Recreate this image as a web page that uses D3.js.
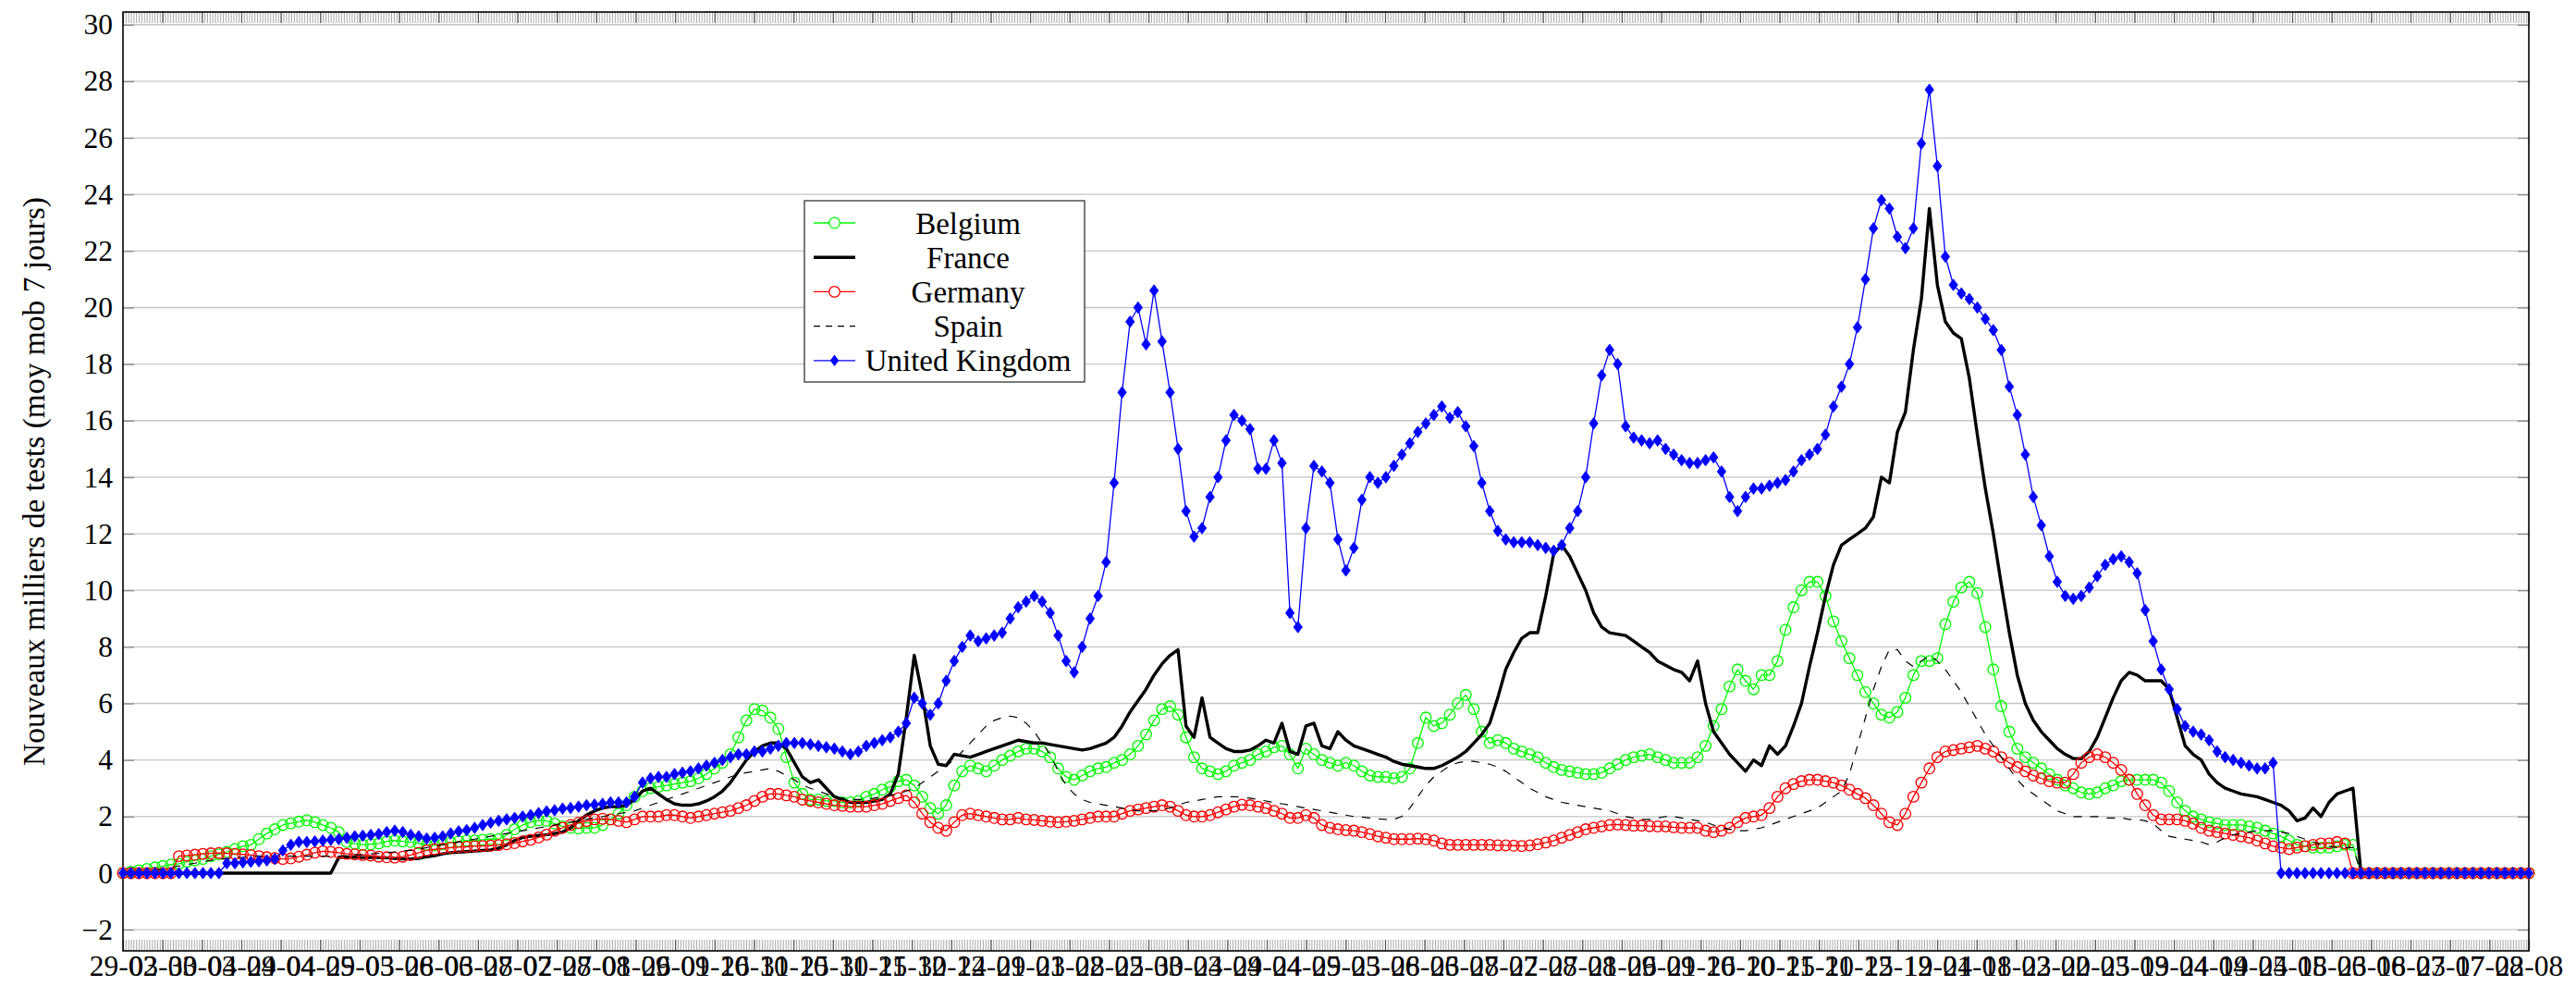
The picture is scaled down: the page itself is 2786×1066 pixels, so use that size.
<!DOCTYPE html>
<html>
<head>
<meta charset="utf-8">
<script src="https://cdn.jsdelivr.net/npm/d3@7"></script>
<style>
  body { margin: 0; background: #fff; }
  text { font-family: "Liberation Serif", "Times New Roman", serif; fill: #000; }
</style>
</head>
<body>
<svg id="chart" width="2786" height="1066"></svg>
<script>
// one value every 3 days starting 29-02-2020
const startDate = new Date(2020, 1, 29);
const stepDays = 3;

const belgium = [
  0,0.05,0.1,0.15,0.2,0.25,0.3,0.33,0.4,0.45,
  0.5,0.6,0.66,0.75,0.85,0.95,1.0,1.2,1.4,1.55,
  1.7,1.76,1.82,1.87,1.8,1.7,1.6,1.45,1.1,1.04,
  1.0,1.02,1.05,1.12,1.15,1.12,1.1,1.05,1.0,0.98,
  1.02,1.08,1.12,1.15,1.15,1.18,1.2,1.2,1.35,1.55,
  1.7,1.8,1.87,1.85,1.75,1.65,1.6,1.58,1.6,1.6,
  1.7,1.9,2.1,2.4,2.7,2.9,3.0,3.05,3.1,3.15,
  3.2,3.25,3.35,3.5,3.7,3.9,4.2,4.8,5.4,5.8,
  5.75,5.5,5.1,4.1,3.2,2.8,2.6,2.6,2.55,2.55,
  2.5,2.5,2.55,2.7,2.8,2.95,3.05,3.25,3.3,3.1,
  2.7,2.3,2.1,2.4,3.1,3.6,3.8,3.7,3.6,3.8,
  4.0,4.15,4.3,4.4,4.4,4.3,4.1,3.7,3.4,3.3,
  3.45,3.6,3.7,3.75,3.9,4.0,4.2,4.5,4.9,5.4,
  5.8,5.9,5.6,4.8,4.1,3.7,3.6,3.5,3.6,3.8,
  3.9,4.0,4.2,4.3,4.45,4.5,4.2,3.7,4.4,4.2,
  4.0,3.9,3.8,3.9,3.8,3.6,3.45,3.4,3.4,3.35,
  3.4,3.7,4.6,5.5,5.2,5.3,5.6,6.0,6.3,5.8,
  5.0,4.6,4.7,4.6,4.4,4.3,4.2,4.1,3.9,3.75,
  3.65,3.6,3.55,3.5,3.5,3.55,3.7,3.85,4.0,4.1,
  4.15,4.2,4.1,4.0,3.9,3.9,3.9,4.1,4.5,5.2,
  5.8,6.6,7.2,6.8,6.5,7.0,7.0,7.5,8.6,9.4,
  10.0,10.3,10.3,9.8,8.9,8.2,7.6,7.0,6.4,6.0,
  5.6,5.5,5.7,6.2,7.0,7.5,7.5,7.6,8.8,9.6,
  10.1,10.3,9.9,8.7,7.2,5.9,5.0,4.4,4.1,3.9,
  3.7,3.5,3.3,3.1,3.0,2.85,2.8,2.85,3.0,3.1,
  3.25,3.3,3.3,3.3,3.3,3.2,2.9,2.5,2.2,2.0,
  1.9,1.8,1.75,1.7,1.7,1.7,1.65,1.6,1.5,1.4,
  1.3,1.15,1.0,0.95,0.9,0.9,0.9,0.95,1.0,1.0,
  0,0,0,0,0,0,0,0,0,0,
  0,0,0,0,0,0,0,0,0,0,
  0,0
];

const france = [
  0,0,0,0,0,0,0,0,0,0,
  0,0,0,0,0,0,0,0,0,0,
  0,0,0,0,0,0,0,0.55,0.57,0.56,
  0.55,0.55,0.55,0.54,0.52,0.5,0.5,0.52,0.58,0.62,
  0.68,0.72,0.74,0.76,0.78,0.8,0.82,0.88,1.0,1.15,
  1.26,1.3,1.33,1.36,1.4,1.45,1.6,1.85,2.05,2.2,
  2.3,2.35,2.35,2.4,2.6,2.9,3.0,2.8,2.6,2.45,
  2.4,2.4,2.45,2.55,2.7,2.9,3.2,3.6,4.0,4.3,
  4.5,4.6,4.6,4.4,3.9,3.4,3.2,3.3,3.0,2.7,
  2.6,2.5,2.5,2.5,2.55,2.6,2.8,3.5,5.5,7.7,
  6.3,4.5,3.85,3.8,4.2,4.15,4.1,4.2,4.3,4.4,
  4.5,4.6,4.7,4.65,4.6,4.6,4.55,4.5,4.45,4.4,
  4.35,4.4,4.5,4.6,4.8,5.2,5.7,6.1,6.5,7.0,
  7.4,7.7,7.9,5.2,4.8,6.2,4.8,4.6,4.4,4.3,
  4.3,4.35,4.5,4.7,4.6,5.3,4.3,4.2,5.2,5.3,
  4.5,4.4,5.0,4.7,4.5,4.4,4.3,4.2,4.1,3.95,
  3.85,3.8,3.75,3.7,3.7,3.8,3.95,4.1,4.3,4.6,
  4.9,5.3,6.2,7.2,7.8,8.3,8.5,8.5,9.8,11.3,
  11.6,11.2,10.6,10.0,9.2,8.7,8.5,8.45,8.4,8.2,
  8.0,7.8,7.5,7.35,7.2,7.1,6.8,7.5,6.0,5.0,
  4.6,4.2,3.9,3.6,4.0,3.8,4.5,4.2,4.5,5.2,
  6.0,7.3,8.5,9.8,10.9,11.6,11.8,12.0,12.2,12.6,
  14.0,13.8,15.6,16.3,18.5,20.3,23.5,20.8,19.5,19.1,
  18.9,17.5,15.5,13.6,12.0,10.2,8.5,7.0,6.0,5.4,
  5.0,4.7,4.4,4.2,4.05,4.05,4.3,4.8,5.5,6.2,
  6.8,7.1,7.0,6.8,6.8,6.8,6.5,5.5,4.5,4.2,
  4.0,3.5,3.2,3.0,2.9,2.8,2.75,2.7,2.6,2.5,
  2.4,2.2,1.85,1.95,2.3,2.0,2.5,2.8,2.9,3.0,
  0,0,0,0,0,0,0,0,0,0,
  0,0,0,0,0,0,0,0,0,0,
  0,0
];

const germany = [
  0,0,0,0,0,0,0,0.6,0.62,0.65,
  0.68,0.7,0.71,0.7,0.68,0.66,0.64,0.6,0.56,0.53,
  0.5,0.52,0.58,0.65,0.72,0.77,0.75,0.72,0.68,0.66,
  0.64,0.62,0.58,0.56,0.55,0.58,0.64,0.72,0.8,0.84,
  0.87,0.9,0.92,0.93,0.95,0.96,0.97,0.99,1.02,1.06,
  1.12,1.18,1.26,1.36,1.5,1.6,1.7,1.78,1.84,1.9,
  1.92,1.9,1.85,1.8,1.9,2.0,2.0,2.0,2.05,2.05,
  2.0,1.95,2.0,2.05,2.1,2.15,2.2,2.3,2.4,2.55,
  2.7,2.8,2.8,2.75,2.7,2.6,2.55,2.5,2.45,2.4,
  2.38,2.35,2.35,2.35,2.4,2.45,2.55,2.65,2.75,2.5,
  2.1,1.8,1.6,1.5,1.8,2.05,2.1,2.05,2.0,1.95,
  1.9,1.9,1.95,1.9,1.88,1.85,1.82,1.8,1.82,1.85,
  1.9,1.95,2.0,2.0,2.0,2.1,2.2,2.25,2.3,2.35,
  2.4,2.35,2.2,2.05,2.0,2.0,2.05,2.15,2.25,2.35,
  2.42,2.4,2.35,2.3,2.2,2.1,1.95,1.95,2.05,1.95,
  1.7,1.6,1.55,1.52,1.5,1.45,1.38,1.3,1.25,1.2,
  1.2,1.2,1.22,1.2,1.15,1.05,1.0,1.0,1.0,1.0,
  1.0,1.0,0.98,0.98,0.97,0.96,0.98,1.02,1.08,1.15,
  1.25,1.35,1.45,1.55,1.6,1.65,1.7,1.72,1.7,1.68,
  1.68,1.66,1.65,1.65,1.62,1.6,1.6,1.6,1.5,1.45,
  1.5,1.6,1.8,1.95,2.0,2.05,2.3,2.7,3.0,3.15,
  3.25,3.3,3.3,3.25,3.2,3.1,2.95,2.8,2.65,2.4,
  2.1,1.8,1.7,2.1,2.7,3.2,3.7,4.1,4.3,4.35,
  4.4,4.45,4.5,4.4,4.3,4.1,3.9,3.75,3.6,3.45,
  3.35,3.25,3.2,3.2,3.5,3.9,4.1,4.2,4.1,3.9,
  3.65,3.3,2.8,2.4,2.05,1.9,1.9,1.9,1.85,1.75,
  1.6,1.5,1.45,1.4,1.35,1.3,1.25,1.15,1.05,0.95,
  0.9,0.85,0.9,0.95,1.0,1.05,1.05,1.1,1.05,0,
  0,0,0,0,0,0,0,0,0,0,
  0,0,0,0,0,0,0,0,0,0,
  0,0
];

const spain = [
  0,0,0,0.05,0.1,0.15,0.2,0.25,0.3,0.35,
  0.4,0.45,0.5,0.5,0.55,0.55,0.6,0.6,0.6,0.6,
  0.6,0.6,0.6,0.6,0.6,0.6,0.6,0.6,0.62,0.65,
  0.65,0.68,0.7,0.72,0.75,0.78,0.8,0.85,0.9,0.95,
  1.0,1.05,1.1,1.15,1.2,1.25,1.3,1.35,1.4,1.45,
  1.5,1.55,1.6,1.65,1.7,1.75,1.8,1.85,1.9,1.95,
  2.0,2.05,2.1,2.15,2.2,2.3,2.4,2.5,2.6,2.7,
  2.8,2.9,3.0,3.1,3.2,3.3,3.4,3.5,3.55,3.6,
  3.65,3.7,3.6,3.45,3.3,3.1,3.0,2.9,2.8,2.7,
  2.65,2.6,2.6,2.6,2.65,2.7,2.75,2.8,2.9,3.0,
  3.2,3.4,3.6,3.8,4.0,4.3,4.6,4.9,5.2,5.4,
  5.5,5.55,5.5,5.3,5.0,4.6,4.2,3.6,3.1,2.8,
  2.6,2.5,2.45,2.4,2.35,2.3,2.25,2.2,2.2,2.2,
  2.25,2.3,2.4,2.5,2.55,2.6,2.65,2.7,2.7,2.7,
  2.68,2.65,2.6,2.55,2.5,2.45,2.4,2.35,2.3,2.25,
  2.2,2.15,2.1,2.05,2.0,1.98,1.95,1.92,1.9,1.9,
  2.0,2.3,2.7,3.1,3.4,3.6,3.8,3.9,3.95,3.95,
  3.9,3.85,3.75,3.6,3.4,3.2,3.0,2.85,2.7,2.6,
  2.5,2.45,2.4,2.35,2.3,2.25,2.2,2.1,2.0,1.95,
  1.9,1.9,1.95,2.0,2.0,1.95,1.9,1.85,1.8,1.7,
  1.6,1.55,1.5,1.5,1.55,1.6,1.7,1.8,1.9,2.0,
  2.1,2.2,2.3,2.5,2.7,2.9,3.5,4.5,5.5,6.5,
  7.3,7.9,7.9,7.5,7.3,7.5,7.7,7.5,7.2,6.8,
  6.4,5.9,5.4,4.9,4.5,4.1,3.7,3.3,3.0,2.8,
  2.6,2.4,2.2,2.1,2.0,2.0,2.0,2.0,1.95,1.95,
  1.95,1.9,1.9,1.85,1.75,1.5,1.3,1.25,1.2,1.15,
  1.1,1.0,1.1,1.25,1.35,1.4,1.45,1.5,1.5,1.5,
  1.45,1.4,1.3,1.2,1.1,1.0,0.95,0.9,0.9,0.9,
  0,0,0,0,0,0,0,0,0,0,
  0,0,0,0,0,0,0,0,0,0,
  0,0
];

const unitedKingdom = [
  0,0,0,0,0,0,0,0,0,0,
  0,0,0,0.35,0.35,0.38,0.4,0.42,0.45,0.5,
  0.8,1.0,1.1,1.1,1.12,1.15,1.18,1.2,1.25,1.3,
  1.32,1.35,1.38,1.45,1.5,1.45,1.35,1.3,1.22,1.25,
  1.3,1.4,1.48,1.52,1.6,1.7,1.78,1.85,1.9,1.95,
  2.0,2.05,2.12,2.18,2.22,2.28,2.3,2.35,2.4,2.42,
  2.45,2.5,2.5,2.5,2.7,3.2,3.35,3.4,3.4,3.5,
  3.55,3.6,3.7,3.8,3.9,4.0,4.1,4.2,4.2,4.3,
  4.3,4.4,4.5,4.6,4.6,4.6,4.55,4.5,4.45,4.4,
  4.3,4.2,4.3,4.5,4.6,4.7,4.8,5.0,5.3,6.2,
  6.0,5.6,6.0,6.8,7.5,8.0,8.4,8.2,8.3,8.4,
  8.5,9.0,9.4,9.6,9.8,9.6,9.2,8.4,7.5,7.1,
  8.0,9.0,9.8,11.0,13.8,17.0,19.5,20.0,18.7,20.6,
  18.8,17.0,15.0,12.8,11.9,12.2,13.3,14.0,15.3,16.2,
  16.0,15.7,14.3,14.3,15.3,14.5,9.2,8.7,12.2,14.4,
  14.2,13.8,11.8,10.7,11.5,13.2,14.0,13.8,14.0,14.4,
  14.8,15.2,15.6,15.9,16.2,16.5,16.1,16.3,15.8,15.1,
  13.8,12.8,12.1,11.8,11.7,11.7,11.7,11.6,11.5,11.4,
  11.6,12.2,12.8,14.0,15.9,17.6,18.5,18.0,15.8,15.4,
  15.3,15.2,15.3,15.0,14.8,14.6,14.5,14.5,14.6,14.7,
  14.2,13.3,12.8,13.3,13.6,13.6,13.7,13.8,13.9,14.2,
  14.6,14.8,15.0,15.5,16.5,17.2,18.0,19.3,21.0,22.8,
  23.8,23.5,22.5,22.1,22.8,25.8,27.7,25.0,21.8,20.8,
  20.5,20.3,20.0,19.6,19.2,18.5,17.2,16.2,14.8,13.3,
  12.3,11.2,10.3,9.8,9.7,9.8,10.1,10.5,10.9,11.1,
  11.2,11.0,10.6,9.3,8.2,7.2,6.5,5.8,5.2,5.0,
  4.9,4.7,4.3,4.1,4.0,3.9,3.8,3.7,3.7,3.9,
  0,0,0,0,0,0,0,0,0,0,
  0,0,0,0,0,0,0,0,0,0,
  0,0,0,0,0,0,0,0,0,0,
  0,0
];

const xTickLabels = [
  "29-02","03-03","30-03","04-04","29-04","04-05","29-05","03-06","28-06","03-07",
  "28-07","02-08","27-08","01-09","26-09","01-10","26-10","31-10","25-11","30-11",
  "25-12","30-12","24-01","29-01","23-02","28-02","25-03","30-03","24-04","29-04",
  "24-05","29-05","23-06","28-06","23-07","28-07","22-08","27-08","21-09","26-09",
  "21-10","26-10","20-11","25-11","20-12","25-12","19-01","24-01","18-02","23-02",
  "20-03","25-03","19-04","24-04","19-05","24-05","18-06","23-06","18-07","23-07",
  "17-08","22-08"
];

const yTickValues = [-2, 0, 2, 4, 6, 8, 10, 12, 14, 16, 18, 20, 22, 24, 26, 28, 30];

const seriesNames = ["Belgium", "France", "Germany", "Spain", "United Kingdom"];
const seriesValues = [belgium, france, germany, spain, unitedKingdom];

const yLabel = "Nouveaux milliers de tests (moy mob 7 jours)";

// plot box
const pL = 133, pR = 2735, pT = 13, pB = 1028;

let svg = d3.select("#chart");

const dates = belgium.map((v, i) => d3.timeDay.offset(startDate, i * stepDays));

let x = d3.scaleTime().domain([dates[0], dates[dates.length - 1]]).range([pL, pR]);
let y = d3.scaleLinear().domain([-2.75, 30.45]).range([pB, pT]);

// horizontal grid
svg.append("g").selectAll("line")
  .data(yTickValues)
  .join("line")
  .attr("x1", pL).attr("x2", pR)
  .attr("y1", d => y(d)).attr("y2", d => y(d))
  .attr("stroke", "#c4c4c4")
  .attr("stroke-width", 1.3);

// minor x ticks (15 per label step), top and bottom
const nMinor = (xTickLabels.length - 1) * 15;
let xMinor = d3.scaleLinear().domain([0, nMinor]).range([pL, pR]);
let minorBottom = svg.append("g")
  .attr("transform", `translate(0,${pB})`)
  .call(d3.axisBottom(xMinor).tickValues(d3.range(0, nMinor + 1)).tickFormat("").tickSize(-12).tickSizeOuter(0));
let minorTop = svg.append("g")
  .attr("transform", `translate(0,${pT})`)
  .call(d3.axisTop(xMinor).tickValues(d3.range(0, nMinor + 1)).tickFormat("").tickSize(-12).tickSizeOuter(0));
[minorBottom, minorTop].forEach(g => {
  g.select(".domain").remove();
  g.selectAll(".tick line").attr("stroke", "#a8a8a8").attr("stroke-width", 1);
});

// labelled x ticks
let xLab = d3.scalePoint().domain(d3.range(xTickLabels.length)).range([pL, pR]);
let xAxis = svg.append("g")
  .attr("transform", `translate(0,${pB})`)
  .call(d3.axisBottom(xLab).tickFormat(i => xTickLabels[i]).tickSize(-12).tickSizeOuter(0).tickPadding(5));
xAxis.select(".domain").remove();
xAxis.selectAll(".tick line").attr("stroke", "#555").attr("stroke-width", 1.2);
xAxis.selectAll("text")
  .attr("font-family", "Liberation Serif, serif")
  .attr("font-size", 31.5)
  .attr("fill", "#000");

let xAxisTop = svg.append("g")
  .attr("transform", `translate(0,${pT})`)
  .call(d3.axisTop(xLab).tickFormat("").tickSize(-12).tickSizeOuter(0));
xAxisTop.select(".domain").remove();
xAxisTop.selectAll(".tick line").attr("stroke", "#555").attr("stroke-width", 1.2);

// y axes
let yAxis = svg.append("g")
  .attr("transform", `translate(${pL},0)`)
  .call(d3.axisLeft(y).tickValues(yTickValues).tickSize(-12).tickSizeOuter(0).tickPadding(11)
    .tickFormat(d => d < 0 ? "\u2212" + Math.abs(d) : d));
yAxis.select(".domain").remove();
yAxis.selectAll(".tick line").attr("stroke", "#8a8a8a").attr("stroke-width", 1.3);
yAxis.selectAll("text")
  .attr("font-family", "Liberation Serif, serif")
  .attr("font-size", 31.5)
  .attr("fill", "#000");

let yAxisRight = svg.append("g")
  .attr("transform", `translate(${pR},0)`)
  .call(d3.axisRight(y).tickValues(yTickValues).tickSize(-12).tickSizeOuter(0).tickFormat(""));
yAxisRight.select(".domain").remove();
yAxisRight.selectAll(".tick line").attr("stroke", "#8a8a8a").attr("stroke-width", 1.3);

// frame
svg.append("rect")
  .attr("x", pL).attr("y", pT)
  .attr("width", pR - pL).attr("height", pB - pT)
  .attr("fill", "none")
  .attr("stroke", "#000")
  .attr("stroke-width", 1.6);

// axis title
svg.append("text")
  .attr("transform", `translate(36,${(pT + pB) / 2}) rotate(-90)`)
  .attr("text-anchor", "middle")
  .attr("dy", "0.35em")
  .attr("font-size", 33.5)
  .text(yLabel);

// styles per series
const styles = {
  "Belgium":        { color: "#00ff00", width: 1.3, dash: null, mark: "circle" },
  "France":         { color: "#000000", width: 3.4, dash: null, mark: null },
  "Germany":        { color: "#ff0000", width: 1.3, dash: null, mark: "circle" },
  "Spain":          { color: "#000000", width: 1.2, dash: "9,9", mark: null },
  "United Kingdom": { color: "#0000ff", width: 1.3, dash: null, mark: "diamond" }
};

const diamond = "M0,-6.3L4.7,0L0,6.3L-4.7,0Z";

let line = d3.line()
  .x(d => x(d.date))
  .y(d => y(d.v));

seriesNames.forEach((name, si) => {
  let st = styles[name];
  let pts = seriesValues[si].map((v, i) => ({ date: dates[i], v: v }));
  let g = svg.append("g");

  g.append("path")
    .datum(pts)
    .attr("d", line)
    .attr("fill", "none")
    .attr("stroke", st.color)
    .attr("stroke-width", st.width)
    .attr("stroke-dasharray", st.dash)
    .attr("stroke-linejoin", "round");

  if (st.mark === "circle") {
    g.selectAll("circle")
      .data(pts)
      .join("circle")
      .attr("cx", d => x(d.date))
      .attr("cy", d => y(d.v))
      .attr("r", 5.8)
      .attr("fill", "none")
      .attr("stroke", st.color)
      .attr("stroke-width", 1.3);
  } else if (st.mark === "diamond") {
    g.selectAll("path.mk")
      .data(pts)
      .join("path")
      .attr("class", "mk")
      .attr("transform", d => `translate(${x(d.date)},${y(d.v)})`)
      .attr("d", diamond)
      .attr("fill", st.color)
      .attr("stroke", st.color)
      .attr("stroke-width", 0.8);
  }
});

// legend
let legend = svg.append("g").attr("transform", "translate(870,217)");
legend.append("rect")
  .attr("width", 303).attr("height", 196)
  .attr("fill", "#fff")
  .attr("stroke", "#333")
  .attr("stroke-width", 1.3);

seriesNames.forEach((name, i) => {
  let st = styles[name];
  let ry = 24 + i * 37.2;
  let row = legend.append("g").attr("transform", `translate(0,${ry})`);
  row.append("line")
    .attr("x1", 10).attr("x2", 55)
    .attr("stroke", st.color)
    .attr("stroke-width", st.width)
    .attr("stroke-dasharray", st.dash ? "7,6" : null);
  if (st.mark === "circle") {
    row.append("circle").attr("cx", 32.5).attr("r", 5.8)
      .attr("fill", "#fff").attr("stroke", st.color).attr("stroke-width", 1.3);
  } else if (st.mark === "diamond") {
    row.append("path").attr("transform", "translate(32.5,0)").attr("d", diamond)
      .attr("fill", st.color);
  }
  row.append("text")
    .attr("x", 177)
    .attr("dy", "0.35em")
    .attr("text-anchor", "middle")
    .attr("font-size", 33)
    .text(name);
});
</script>
</body>
</html>
